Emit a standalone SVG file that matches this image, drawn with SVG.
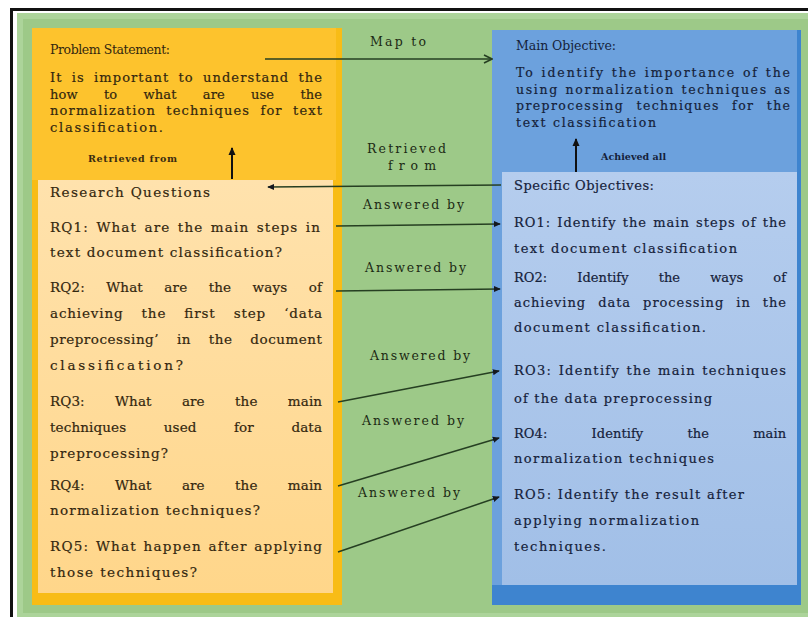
<svg xmlns="http://www.w3.org/2000/svg" width="808" height="617" viewBox="0 0 808 617">
  <style>
    text { font-family: "DejaVu Serif", "Liberation Serif", serif; }
    .ttl { font-size: 12.5px; fill: #33270f; }
    .ps { font-size: 13px; fill: #33270f; stroke: #33270f; stroke-width: 0.2; }
    .rq { font-size: 13.5px; fill: #33270f; stroke: #33270f; stroke-width: 0.2; }
    .mo { font-size: 12.5px; fill: #15213a; stroke: #15213a; stroke-width: 0.2; }
    .mot { font-size: 12.5px; fill: #15213a; }
    .ro { font-size: 13px; fill: #15213a; stroke: #15213a; stroke-width: 0.2; }
    .lbl { font-size: 12.5px; fill: #1c2a14; }
    .sm { font-size: 9.5px; font-weight: bold; fill: #3a2c10; }
    .smb { font-size: 9.5px; font-weight: bold; fill: #15213a; }
    .edge { stroke: #263f22; stroke-width: 1.5; fill: none; }
    .up { stroke: #111; stroke-width: 2; fill: none; }
  </style>
  <defs>
    <marker id="open" viewBox="0 0 10 10" refX="9" refY="5" markerWidth="10" markerHeight="10" markerUnits="userSpaceOnUse" orient="auto">
      <path d="M1,1 L9,5 L1,9" fill="none" stroke="#263f22" stroke-width="1.6"/>
    </marker>
    <marker id="tri" viewBox="0 0 8 8" refX="7" refY="4" markerWidth="7" markerHeight="7" markerUnits="userSpaceOnUse" orient="auto">
      <path d="M0,0.5 L8,4 L0,7.5 z" fill="#14181f"/>
    </marker>
    <marker id="triUp" viewBox="0 0 8 8" refX="7" refY="4" markerWidth="8" markerHeight="8" markerUnits="userSpaceOnUse" orient="auto">
      <path d="M0,0.5 L8,4 L0,7.5 z" fill="#111"/>
    </marker>
    <linearGradient id="rqFill" x1="0" y1="0" x2="0" y2="1">
      <stop offset="0" stop-color="#ffe2ad"/>
      <stop offset="1" stop-color="#ffd68a"/>
    </linearGradient>
    <linearGradient id="soFill" x1="0" y1="0" x2="0" y2="1">
      <stop offset="0" stop-color="#b5cdee"/>
      <stop offset="1" stop-color="#a1bfe7"/>
    </linearGradient>
  </defs>

  <!-- frame and background -->
  <g id="background">
    <rect x="0" y="0" width="808" height="617" fill="#ffffff"/>
    <rect x="17" y="13" width="791" height="604" fill="#acd49a"/>
    <rect x="23" y="19" width="785" height="594" fill="#9dc988"/>
    <rect x="10" y="8" width="798" height="3" fill="#111"/>
    <rect x="10" y="8" width="3" height="609" fill="#111"/>
  </g>

  <!-- Problem statement (amber block) -->
  <g id="problem-statement">
    <rect x="32" y="28" width="310" height="577" fill="#f8bc16"/>
    <rect x="32" y="28" width="304" height="152" fill="#fdc32d"/>
    <text class="ttl" x="50" y="54" textLength="120" lengthAdjust="spacing">Problem Statement:</text>
    <text class="ps" x="50" y="82" word-spacing="4" textLength="272" lengthAdjust="spacing">It is important to understand the</text>
    <text class="ps" x="50" y="98.5" word-spacing="22" textLength="272" lengthAdjust="spacing">how to what are use the</text>
    <text class="ps" x="50" y="115" word-spacing="5" textLength="272" lengthAdjust="spacing">normalization techniques for text</text>
    <text class="ps" x="50" y="131.5" textLength="113" lengthAdjust="spacing">classification.</text>
  </g>

  <!-- Research questions (light amber block) -->
  <g id="research-questions">
    <rect x="38" y="180" width="295" height="413" fill="url(#rqFill)"/>
    <text class="rq" x="50" y="197" textLength="160" lengthAdjust="spacing">Research Questions</text>
    <text class="rq" x="50" y="232" word-spacing="2" textLength="270" lengthAdjust="spacing">RQ1: What are the main steps in</text>
    <text class="rq" x="50" y="257" textLength="232" lengthAdjust="spacing">text document classification?</text>
    <text class="rq" x="50" y="292" word-spacing="17" textLength="272" lengthAdjust="spacing">RQ2: What are the ways of</text>
    <text class="rq" x="50" y="318" word-spacing="13" textLength="272" lengthAdjust="spacing">achieving the first step ‘data</text>
    <text class="rq" x="50" y="344" word-spacing="13" textLength="272" lengthAdjust="spacing">preprocessing’ in the document</text>
    <text class="rq" x="50" y="370" textLength="133" lengthAdjust="spacing">classification?</text>
    <text class="rq" x="50" y="406" word-spacing="26" textLength="272" lengthAdjust="spacing">RQ3: What are the main</text>
    <text class="rq" x="50" y="432" word-spacing="33" textLength="272" lengthAdjust="spacing">techniques used for data</text>
    <text class="rq" x="50" y="458" textLength="118" lengthAdjust="spacing">preprocessing?</text>
    <text class="rq" x="50" y="490" word-spacing="26" textLength="272" lengthAdjust="spacing">RQ4: What are the main</text>
    <text class="rq" x="50" y="515" textLength="210" lengthAdjust="spacing">normalization techniques?</text>
    <text class="rq" x="50" y="551" word-spacing="1" textLength="272" lengthAdjust="spacing">RQ5: What happen after applying</text>
    <text class="rq" x="50" y="577" textLength="147" lengthAdjust="spacing">those techniques?</text>
  </g>

  <!-- Main objective (blue block) -->
  <g id="main-objective">
    <rect x="492" y="30" width="309" height="575" fill="#3e84cf"/>
    <rect x="492" y="30" width="305" height="555" fill="#6ca1dd"/>
    <text class="mot" x="516" y="50" textLength="100" lengthAdjust="spacing">Main Objective:</text>
    <text class="mo" x="516" y="77" word-spacing="1" textLength="274" lengthAdjust="spacing">To identify the importance of the</text>
    <text class="mo" x="516" y="93.5" word-spacing="1" textLength="274" lengthAdjust="spacing">using normalization techniques as</text>
    <text class="mo" x="516" y="110" word-spacing="7" textLength="274" lengthAdjust="spacing">preprocessing techniques for the</text>
    <text class="mo" x="516" y="126.5" textLength="140" lengthAdjust="spacing">text classification</text>
  </g>

  <!-- Specific objectives (light blue block) -->
  <g id="specific-objectives">
    <rect x="502" y="172" width="295" height="413" fill="url(#soFill)"/>
    <text class="ro" x="514" y="190" textLength="140" lengthAdjust="spacing">Specific Objectives:</text>
    <text class="ro" x="514" y="227" word-spacing="1" textLength="272" lengthAdjust="spacing">RO1: Identify the main steps of the</text>
    <text class="ro" x="514" y="253" textLength="223" lengthAdjust="spacing">text document classification</text>
    <text class="ro" x="514" y="282" word-spacing="26" textLength="272" lengthAdjust="spacing">RO2: Identify the ways of</text>
    <text class="ro" x="514" y="307" word-spacing="7" textLength="272" lengthAdjust="spacing">achieving data processing in the</text>
    <text class="ro" x="514" y="332" textLength="192" lengthAdjust="spacing">document classification.</text>
    <text class="ro" x="514" y="375" word-spacing="1" textLength="272" lengthAdjust="spacing">RO3: Identify the main techniques</text>
    <text class="ro" x="514" y="403" textLength="198" lengthAdjust="spacing">of the data preprocessing</text>
    <text class="ro" x="514" y="438" word-spacing="40" textLength="272" lengthAdjust="spacing">RO4: Identify the main</text>
    <text class="ro" x="514" y="463" textLength="200" lengthAdjust="spacing">normalization techniques</text>
    <text class="ro" x="514" y="499" textLength="230" lengthAdjust="spacing">RO5: Identify the result after</text>
    <text class="ro" x="514" y="525" textLength="185" lengthAdjust="spacing">applying normalization</text>
    <text class="ro" x="514" y="551" textLength="92" lengthAdjust="spacing">techniques.</text>
  </g>

  <!-- connectors with their labels -->
  <g id="connectors">
    <line class="edge" x1="265" y1="59" x2="492" y2="59" marker-end="url(#open)"/>
    <text class="lbl" x="370" y="46" textLength="56" lengthAdjust="spacing">Map to</text>

    <line class="edge" x1="501" y1="185" x2="268" y2="187" marker-end="url(#tri)"/>
    <text class="lbl" x="367" y="153" textLength="79" lengthAdjust="spacing">Retrieved</text>
    <text class="lbl" x="388" y="170" textLength="48" lengthAdjust="spacing">from</text>

    <line class="up" x1="232" y1="179" x2="232" y2="148" marker-end="url(#triUp)"/>
    <text class="sm" x="88" y="162" textLength="89" lengthAdjust="spacing">Retrieved from</text>

    <line class="up" x1="576" y1="172" x2="576" y2="139" marker-end="url(#triUp)"/>
    <text class="smb" x="601" y="160" textLength="65" lengthAdjust="spacing">Achieved all</text>

    <line class="edge" x1="336" y1="226" x2="500" y2="224" marker-end="url(#tri)"/>
    <text class="lbl" x="363" y="209" textLength="101" lengthAdjust="spacing">Answered by</text>

    <line class="edge" x1="336" y1="291" x2="500" y2="289" marker-end="url(#tri)"/>
    <text class="lbl" x="365" y="272" textLength="101" lengthAdjust="spacing">Answered by</text>

    <line class="edge" x1="338" y1="402" x2="499" y2="371" marker-end="url(#tri)"/>
    <text class="lbl" x="370" y="360" textLength="100" lengthAdjust="spacing">Answered by</text>

    <line class="edge" x1="338" y1="486" x2="499" y2="438" marker-end="url(#tri)"/>
    <text class="lbl" x="362" y="425" textLength="102" lengthAdjust="spacing">Answered by</text>

    <line class="edge" x1="338" y1="552" x2="499" y2="497" marker-end="url(#tri)"/>
    <text class="lbl" x="358" y="497" textLength="102" lengthAdjust="spacing">Answered by</text>
  </g>
</svg>
